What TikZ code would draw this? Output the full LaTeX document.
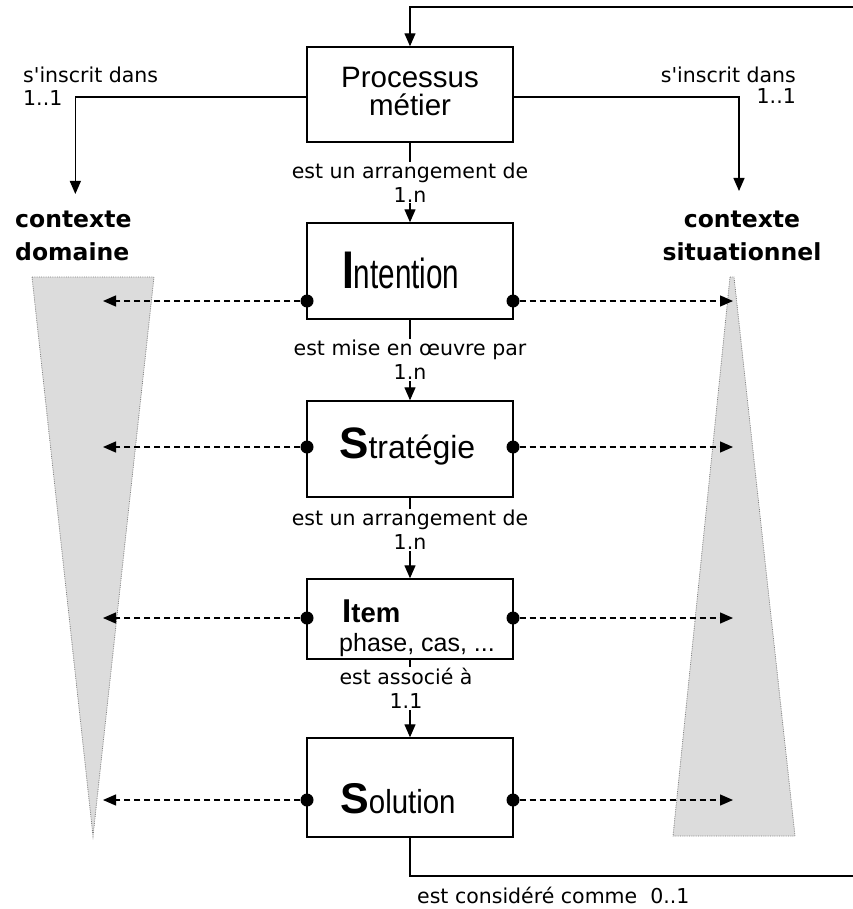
\documentclass[tikz,border=0pt]{standalone}
\usepackage{fontspec}
\setmainfont{DejaVu Sans}
\newfontfamily\arialf{Liberation Sans}
\usetikzlibrary{arrows.meta,calc}
\definecolor{conegray}{HTML}{DCDCDC}
\begin{document}
\begin{tikzpicture}[x=1pt,y=-1pt,
  box/.style={draw, line width=1.4pt, minimum width=206pt, inner sep=0pt},
  lbl/.style={font=\fontsize{20.5}{24}\selectfont, align=center, inner sep=1pt},
  ctx/.style={font=\fontsize{23.5}{33}\selectfont\bfseries, inner sep=0pt},
  dotn/.style={circle, fill=black, inner sep=0pt, minimum size=13pt},
  arr/.style={line width=1.3pt, -{Triangle[length=13pt,width=11pt]}},
  darr/.style={line width=1.3pt, dash pattern=on 6pt off 4pt, -{Triangle[length=13pt,width=11pt]}},
  plainln/.style={line width=1.3pt},
  cone/.style={fill=conegray, draw=gray, densely dotted, line width=0.8pt},
  btxt/.style={anchor=base west, inner sep=0pt}
]
\useasboundingbox (0,0) rectangle (852,909);

% cones
\draw[cone] (32,277) -- (154,277) -- (93,836) -- cycle;
\draw[cone] (730,277) -- (734,277) -- (795,836) -- (673,836) -- cycle;

% boxes
\node[box, minimum height=95pt] (proc) at (410,94.5) {};
\node[box, minimum height=96pt] (inten) at (410,271) {};
\node[box, minimum height=96pt] (strat) at (410,449) {};
\node[box, minimum height=80pt] (item) at (410,619) {};
\node[box, minimum height=99pt] (sol) at (410,787.5) {};

% box texts
\node[inner sep=0pt, align=center, font=\arialf\fontsize{29.5}{28}\selectfont] (procT) at (410,91.5) {Processus\\métier};
\node[btxt] (intT) at (342,288) {\scalebox{0.8}[1]{\arialf\bfseries\fontsize{53}{53}\selectfont I}\scalebox{0.76}[1.08]{\arialf\fontsize{39}{39}\selectfont ntention}};
\node[btxt] (strT) at (339,458) {{\arialf\bfseries\fontsize{44}{44}\selectfont S}{\arialf\fontsize{32}{32}\selectfont tratégie}};
\node[btxt] (itT) at (342,622) {{\arialf\bfseries\fontsize{33}{33}\selectfont I}{\arialf\bfseries\fontsize{27.5}{27.5}\selectfont tem}};
\node[btxt] (itP) at (339,651) {\arialf\fontsize{25}{25}\selectfont phase, cas, ...};
\node[btxt] (solT) at (340,813) {{\arialf\bfseries\fontsize{43}{43}\selectfont S}\scalebox{0.92}[1.04]{\arialf\fontsize{32}{32}\selectfont olution}};

% context labels
\node[ctx, anchor=north west, align=left] (ctxD) at (15,211) {contexte\\domaine};
\node[ctx, anchor=north, align=center] (ctxS) at (742,211) {contexte\\situationnel};

% s'inscrit labels
\node[lbl, anchor=west] (sL1) at (22,75) {s\textquotesingle inscrit dans};
\node[lbl, anchor=west] (sL2) at (22,98) {1..1};
\node[lbl, anchor=east] (sR1) at (797,75) {s\textquotesingle inscrit dans};
\node[lbl, anchor=east] (sR2) at (797,96) {1..1};

% branches to contexts
\draw[arr] ($(proc.west)+(0,2.5)$) -| ($(ctxD.north)+(2,-17)$);
\draw[arr] ($(proc.east)+(0,2.5)$) -| ($(ctxS.north)+(-3,-20)$);

% central chain
\draw[arr] (proc) -- node[lbl, fill=white] (l1) {est un arrangement de\\1.n} (inten);
\draw[arr] (inten) -- node[lbl, fill=white] (l2) {est mise en œuvre par\\1.n} (strat);
\draw[arr] (strat) -- node[lbl, fill=white, pos=0.4] (l3) {est un arrangement de\\1.n} (item);
\draw[arr] (item) -- node[lbl, fill=white, pos=0.37, xshift=-4pt] (l4) {est associé à\\1.1} (sol);

% feedback loop
\coordinate (fbT) at (853,7);
\coordinate (fbB) at (853,876);
\draw[arr] (fbT) -| (proc.north);
\draw[plainln] (sol.south) |- (fbB);
\node[lbl, anchor=west] (fbL) at (416,895) {est considéré comme\ \ 0..1};

% dots
\node[dotn] (iL) at (307,301) {};
\node[dotn] (iR) at (513,301) {};
\node[dotn] (sLd) at (307,447) {};
\node[dotn] (sRd) at (513,447) {};
\node[dotn] (tL) at (307,618) {};
\node[dotn] (tR) at (513,618) {};
\node[dotn] (oL) at (307,800) {};
\node[dotn] (oR) at (513,800) {};

% arrow targets in the cones
\coordinate (iLt) at (103,301);
\coordinate (iRt) at (733,301);
\coordinate (sLt) at (103,447);
\coordinate (sRt) at (733,447);
\coordinate (tLt) at (103,618);
\coordinate (tRt) at (733,618);
\coordinate (oLt) at (103,800);
\coordinate (oRt) at (733,800);

\draw[darr] (iL) -- (iLt);
\draw[darr] (iR) -- (iRt);
\draw[darr] (sLd) -- (sLt);
\draw[darr] (sRd) -- (sRt);
\draw[darr] (tL) -- (tLt);
\draw[darr] (tR) -- (tRt);
\draw[darr] (oL) -- (oLt);
\draw[darr] (oR) -- (oRt);
\end{tikzpicture}
\end{document}
